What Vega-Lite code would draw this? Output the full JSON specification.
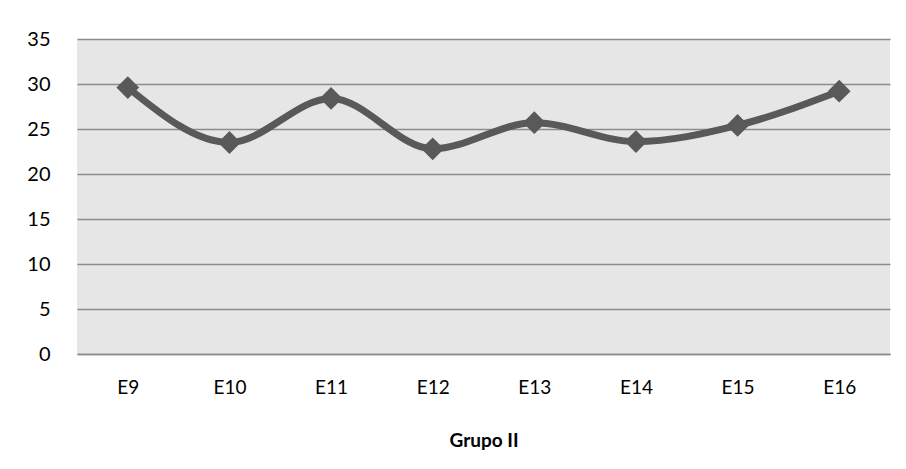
{
  "$schema": "https://vega.github.io/schema/vega-lite/v6.json",
  "width": 813,
  "height": 315,
  "autosize": {"type": "none"},
  "padding": {"left": 77, "top": 39, "right": 16, "bottom": 115},
  "background": "white",
  "config": {
    "view": {"fill": "#E6E6E6", "stroke": null},
    "font": "Lato",
    "axis": {"labelFont": "Lato", "titleFont": "Lato"}
  },
  "data": {
    "values": [
      {"cat": "E9", "v": 29.6},
      {"cat": "E10", "v": 23.5},
      {"cat": "E11", "v": 28.4},
      {"cat": "E12", "v": 22.8},
      {"cat": "E13", "v": 25.7},
      {"cat": "E14", "v": 23.6},
      {"cat": "E15", "v": 25.4},
      {"cat": "E16", "v": 29.2}
    ]
  },
  "encoding": {
    "x": {
      "field": "cat", "type": "nominal", "sort": null,
      "scale": {"paddingInner": 0, "paddingOuter": 0},
      "axis": {
        "title": "Grupo II", "titleFontSize": 19, "titleFontWeight": "bold", "titleColor": "#000",
        "titlePadding": 34,
        "labelAngle": 0, "labelFontSize": 19, "labelColor": "#000", "labelPadding": 24,
        "ticks": false, "domainColor": "#8C8C8C", "domainWidth": 1.5
      }
    },
    "y": {
      "field": "v", "type": "quantitative",
      "scale": {"domain": [0, 35]},
      "axis": {
        "title": null, "values": [0, 5, 10, 15, 20, 25, 30, 35],
        "labelFontSize": 20, "labelColor": "#000", "labelPadding": 27,
        "ticks": false, "domain": false,
        "grid": true, "gridColor": "#8C8C8C", "gridWidth": 1.5
      }
    }
  },
  "layer": [
    {"mark": {"type": "line", "color": "#595959", "strokeWidth": 7, "interpolate": "monotone"}},
    {"mark": {"type": "point", "shape": "diamond", "filled": true, "color": "#595959", "opacity": 1, "size": 520}}
  ]
}
